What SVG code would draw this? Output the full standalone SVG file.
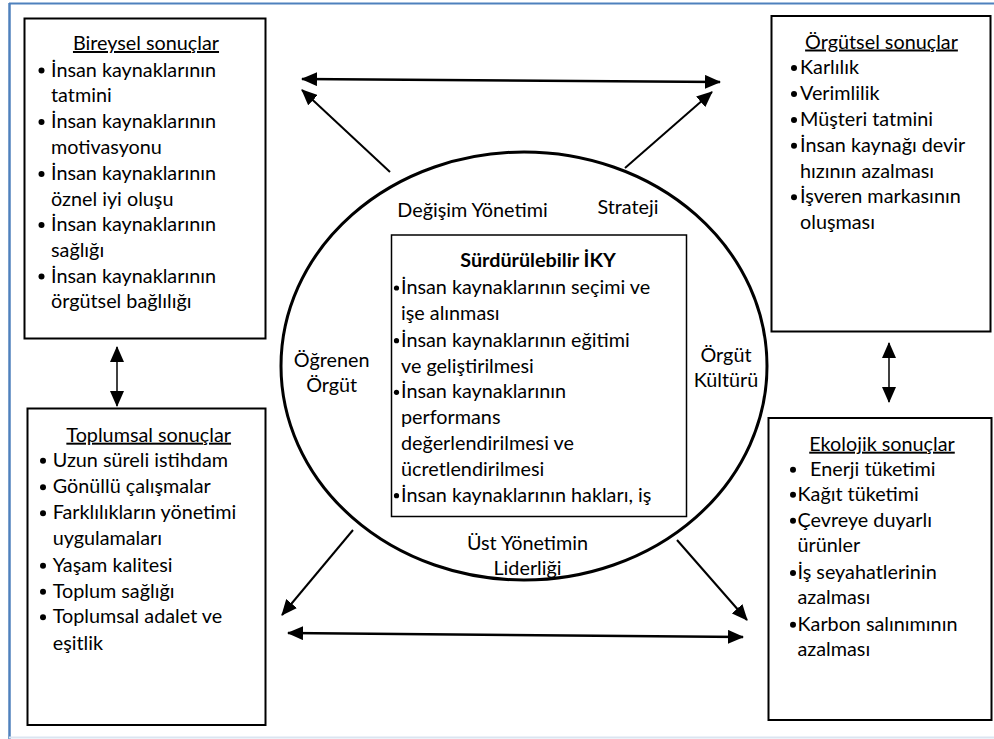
<svg xmlns="http://www.w3.org/2000/svg" width="994" height="739" viewBox="0 0 994 739">
<defs>
<style>
.t{font-family:Lato,"Liberation Sans",sans-serif;font-size:19.8px;fill:#000}
.c{text-anchor:middle}
.h{text-decoration:underline}
.b{font-weight:bold}
.box{fill:#fff;stroke:#000;stroke-width:2}
.ln{fill:none;stroke:#000;stroke-width:2}
</style>
<marker id="ah" viewBox="0 0 16 14" refX="15" refY="7" markerWidth="16" markerHeight="14" markerUnits="userSpaceOnUse" orient="auto-start-reverse">
<path d="M0,0 L16,7 L0,14 z" fill="#000"/>
</marker>
</defs>
<rect width="994" height="739" fill="#fff"/>
<g id="frame">
<line x1="9" y1="3.5" x2="994" y2="3.5" stroke="#4f81bd" stroke-width="2"/>
<line x1="9.5" y1="3" x2="9.5" y2="739" stroke="#4f81bd" stroke-width="2.5"/>
<line x1="9" y1="737.5" x2="994" y2="737.5" stroke="#dbe5f1" stroke-width="2"/>
</g>

<g id="connectors" class="ln">
<line x1="302" y1="79" x2="720" y2="82" marker-start="url(#ah)" marker-end="url(#ah)" stroke-width="2.5"/>
<line x1="390" y1="172" x2="302" y2="90" marker-end="url(#ah)"/>
<line x1="625" y1="168" x2="712" y2="92" marker-end="url(#ah)"/>
<line x1="353" y1="530" x2="282" y2="615" marker-end="url(#ah)"/>
<line x1="677" y1="540" x2="747" y2="620" marker-end="url(#ah)"/>
<line x1="288" y1="633" x2="743" y2="637" marker-start="url(#ah)" marker-end="url(#ah)" stroke-width="2.5"/>
<line x1="117" y1="347" x2="117" y2="406" marker-start="url(#ah)" marker-end="url(#ah)" stroke-width="1.5"/>
<line x1="889" y1="343" x2="889" y2="402" marker-start="url(#ah)" marker-end="url(#ah)" stroke-width="1.5"/>
</g>

<g id="bireysel">
<rect class="box" x="24.5" y="18.5" width="241" height="320"/>
<text class="t c h" x="146" y="50">Bireysel sonuçlar</text>
<g fill="#000"><circle cx="41.5" cy="70.5" r="3"/><circle cx="41.5" cy="122" r="3"/><circle cx="41.5" cy="174" r="3"/><circle cx="41.5" cy="225" r="3"/><circle cx="41.5" cy="276.5" r="3"/></g>
<text class="t" x="51" y="76.5">İnsan kaynaklarının</text>
<text class="t" x="51" y="102">tatmini</text>
<text class="t" x="51" y="128">İnsan kaynaklarının</text>
<text class="t" x="51" y="154">motivasyonu</text>
<text class="t" x="51" y="180">İnsan kaynaklarının</text>
<text class="t" x="51" y="205.5">öznel iyi oluşu</text>
<text class="t" x="51" y="231">İnsan kaynaklarının</text>
<text class="t" x="51" y="257">sağlığı</text>
<text class="t" x="51" y="282.5">İnsan kaynaklarının</text>
<text class="t" x="51" y="308">örgütsel bağlılığı</text>
</g>

<g id="orgutsel">
<rect class="box" x="771.5" y="16" width="219" height="315.5"/>
<text class="t c h" x="881.5" y="48.5">Örgütsel sonuçlar</text>
<g fill="#000"><circle cx="794" cy="68" r="3"/><circle cx="794" cy="94" r="3"/><circle cx="794" cy="120" r="3"/><circle cx="794" cy="145.7" r="3"/><circle cx="794" cy="197.3" r="3"/></g>
<text class="t" x="800" y="74">Karlılık</text>
<text class="t" x="800" y="100">Verimlilik</text>
<text class="t" x="800" y="126">Müşteri tatmini</text>
<text class="t" x="800" y="151.7">İnsan kaynağı devir</text>
<text class="t" x="800" y="177.7">hızının azalması</text>
<text class="t" x="800" y="203.3">İşveren markasının</text>
<text class="t" x="800" y="229.3">oluşması</text>
</g>

<g id="toplumsal">
<rect class="box" x="27.5" y="408.5" width="238" height="316.5"/>
<text class="t c h" x="148.7" y="441.7">Toplumsal sonuçlar</text>
<g fill="#000"><circle cx="43" cy="460.7" r="3"/><circle cx="43" cy="487.3" r="3"/><circle cx="43" cy="513.3" r="3"/><circle cx="43" cy="565.7" r="3"/><circle cx="43" cy="591.7" r="3"/><circle cx="43" cy="617.3" r="3"/></g>
<text class="t" x="52.7" y="466.7">Uzun süreli istihdam</text>
<text class="t" x="52.7" y="493.3">Gönüllü çalışmalar</text>
<text class="t" x="52.7" y="519.3">Farklılıkların yönetimi</text>
<text class="t" x="52.7" y="545">uygulamaları</text>
<text class="t" x="52.7" y="571.7">Yaşam kalitesi</text>
<text class="t" x="52.7" y="597.7">Toplum sağlığı</text>
<text class="t" x="52.7" y="623.3">Toplumsal adalet ve</text>
<text class="t" x="52.7" y="650">eşitlik</text>
</g>

<g id="ekolojik">
<rect class="box" x="768.5" y="418" width="223" height="302"/>
<text class="t c h" x="882" y="450.7">Ekolojik sonuçlar</text>
<g fill="#000"><circle cx="793" cy="469.7" r="3"/><circle cx="793" cy="494.7" r="3"/><circle cx="793" cy="520.7" r="3"/><circle cx="793" cy="573" r="3"/><circle cx="793" cy="624.7" r="3"/></g>
<text class="t" x="810" y="475.7">Enerji tüketimi</text>
<text class="t" x="797.5" y="500.7">Kağıt tüketimi</text>
<text class="t" x="797.5" y="526.7">Çevreye duyarlı</text>
<text class="t" x="797.5" y="552.3">ürünler</text>
<text class="t" x="797.5" y="579">İş seyahatlerinin</text>
<text class="t" x="797.5" y="604">azalması</text>
<text class="t" x="797.5" y="630.7">Karbon salınımının</text>
<text class="t" x="797.5" y="656">azalması</text>
</g>

<g id="cember">
<ellipse cx="524" cy="366" rx="243" ry="214" fill="none" stroke="#000" stroke-width="3"/>
<text class="t c" x="472.5" y="217">Değişim Yönetimi</text>
<text class="t c" x="628" y="214">Strateji</text>
<text class="t c" x="331.7" y="366.7">Öğrenen</text>
<text class="t c" x="331.7" y="391.7">Örgüt</text>
<text class="t c" x="726" y="362">Örgüt</text>
<text class="t c" x="726" y="386.5">Kültürü</text>
<text class="t c" x="527.5" y="550">Üst Yönetimin</text>
<text class="t c" x="527.5" y="575">Liderliği</text>
</g>

<g id="iky">
<rect x="391.5" y="235" width="295" height="281.5" fill="#fff" stroke="#000" stroke-width="1.5"/>
<text class="t c b" x="538" y="266.7">Sürdürülebilir İKY</text>
<g fill="#000"><circle cx="396.5" cy="288" r="2.6"/><circle cx="396.5" cy="340.7" r="2.6"/><circle cx="396.5" cy="392.3" r="2.6"/><circle cx="396.5" cy="495.7" r="2.6"/></g>
<text class="t" x="401" y="294">İnsan kaynaklarının seçimi ve</text>
<text class="t" x="401" y="320">işe alınması</text>
<text class="t" x="401" y="346.7">İnsan kaynaklarının eğitimi</text>
<text class="t" x="401" y="372.7">ve geliştirilmesi</text>
<text class="t" x="401" y="398.3">İnsan kaynaklarının</text>
<text class="t" x="401" y="424.3">performans</text>
<text class="t" x="401" y="450">değerlendirilmesi ve</text>
<text class="t" x="401" y="476">ücretlendirilmesi</text>
<text class="t" x="401" y="501.7">İnsan kaynaklarının hakları, iş</text>
</g>
</svg>
